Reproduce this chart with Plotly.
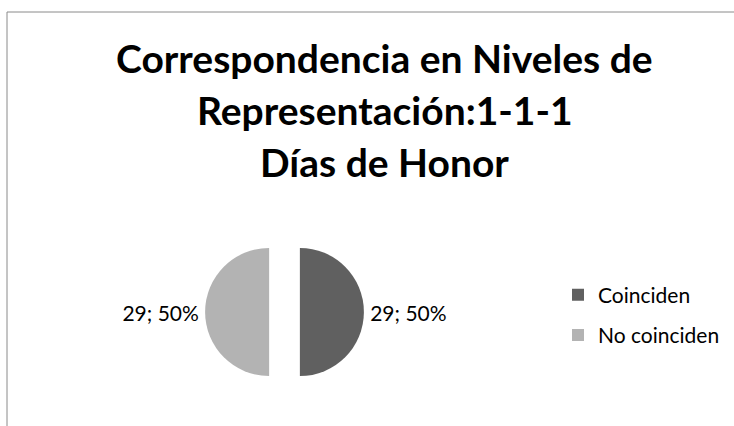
import plotly.graph_objects as go

categories = ["Coinciden", "No coinciden"]
values = [29, 29]
colors = ["#606060", "#b3b3b3"]
title_lines = ["Correspondencia en Niveles de", "Representación:1-1-1", "Días de Honor"]

W, H = 734, 426

fig = go.Figure()
fig.add_trace(go.Pie(
    labels=categories,
    values=values,
    marker=dict(colors=colors, line=dict(width=0)),
    sort=False,
    direction="clockwise",
    rotation=0,
    pull=[0.24, 0.24],
    textposition="outside",
    texttemplate="%{value}; %{percent:.0%}",
    textfont=dict(family="Lato", size=21, color="#000000"),
    domain=dict(x=[205.1 / W, 363.9 / W], y=[34.6 / H, 193.4 / H]),
    hoverinfo="label+value+percent",
    showlegend=False,
))

# legend entries (one per category, so the gap between them can be set)
for cat, col in zip(categories, colors):
    fig.add_trace(go.Scatter(
        x=[None], y=[None], mode="markers", name=cat, legendgroup=cat,
        marker=dict(symbol="square", size=12, color=col),
        showlegend=True, hoverinfo="skip",
    ))

title_y = [58, 110, 162]
for txt, yy in zip(title_lines, title_y):
    fig.add_annotation(
        text="<b>" + txt + "</b>", x=384.5 / W, y=1 - yy / H,
        xref="paper", yref="paper", xanchor="center", yanchor="middle",
        showarrow=False, font=dict(family="Lato", size=39, color="#000000"),
    )

# chart frame (cropped)
fig.add_shape(type="line", xref="paper", yref="paper",
              x0=7 / W, x1=1.01, y0=1 - 12 / H, y1=1 - 12 / H,
              line=dict(color="#8a8a8a", width=1))
fig.add_shape(type="line", xref="paper", yref="paper",
              x0=7 / W, x1=7 / W, y0=1 - 12 / H, y1=-0.01,
              line=dict(color="#8a8a8a", width=1))

fig.update_layout(
    width=W, height=H,
    margin=dict(l=0, r=0, t=0, b=0),
    paper_bgcolor="white",
    plot_bgcolor="white",
    xaxis=dict(visible=False),
    yaxis=dict(visible=False),
    showlegend=True,
    legend=dict(x=558 / W, y=1 - 315 / H, xanchor="left", yanchor="middle",
                font=dict(family="Lato", size=21, color="#000000"),
                tracegroupgap=10,
                bgcolor="rgba(0,0,0,0)"),
)

fig.write_html("out.html", config={"displayModeBar": False},
               post_script="document.body.style.margin='0';document.body.style.overflow='hidden';")
